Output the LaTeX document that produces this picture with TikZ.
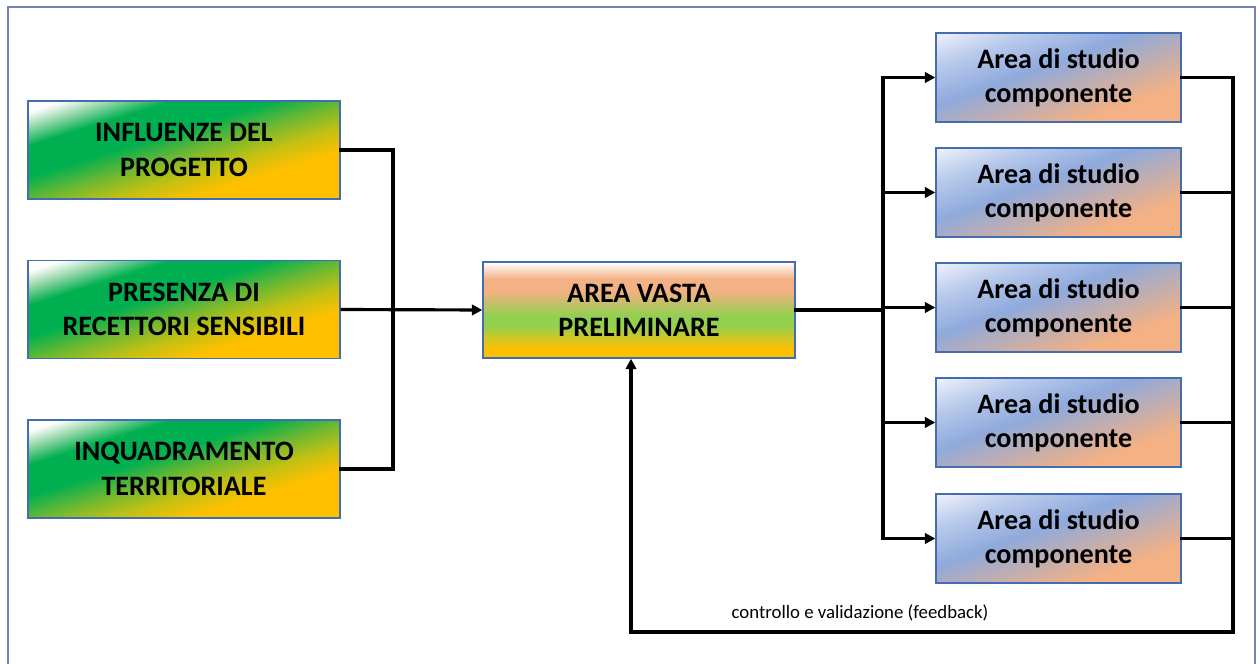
\documentclass[tikz,border=0pt]{standalone}
\usepackage{fontspec}
\setmainfont{Carlito}
\usetikzlibrary{arrows.meta, calc}

\definecolor{boxline}{RGB}{68,108,176}
\definecolor{framecol}{RGB}{112,134,176}
\definecolor{goldfill}{RGB}{255,192,0}
\definecolor{olivefill}{RGB}{190,192,20}
\definecolor{grassfill}{RGB}{110,184,50}
\definecolor{greenfill}{RGB}{0,176,80}
\definecolor{mintfill}{RGB}{150,215,170}
\definecolor{limefill}{RGB}{146,208,80}
\definecolor{yellowfill}{RGB}{205,200,40}
\definecolor{peachfill}{RGB}{244,177,131}
\definecolor{bluefill}{RGB}{143,170,220}
\definecolor{skyfill}{RGB}{185,202,235}
\definecolor{palefill}{RGB}{234,239,249}

\pgfdeclareverticalshading{inputshade}{100bp}{color(0bp)=(goldfill); color(34bp)=(goldfill); color(42bp)=(olivefill); color(49bp)=(grassfill); color(57bp)=(greenfill); color(67bp)=(greenfill); color(73bp)=(mintfill); color(78bp)=(white); color(100bp)=(white)}
\pgfdeclareverticalshading{areashade}{100bp}{color(0bp)=(goldfill); color(29bp)=(goldfill); color(36bp)=(yellowfill); color(42bp)=(limefill); color(47bp)=(limefill); color(60bp)=(peachfill); color(66bp)=(peachfill); color(75bp)=(white); color(100bp)=(white)}
\pgfdeclareverticalshading{compshade}{100bp}{color(0bp)=(peachfill); color(31bp)=(peachfill); color(56bp)=(bluefill); color(70bp)=(skyfill); color(81bp)=(palefill); color(100bp)=(palefill)}

\tikzset{
  inputbox/.style={draw=boxline, line width=0.8pt, shade, shading=inputshade, shading angle=17.4,
    minimum width=6.24cm, minimum height=1.96cm, align=center,
    font=\fontsize{16}{19.5}\selectfont\bfseries},
  areabox/.style={draw=boxline, line width=0.8pt, shade, shading=areashade,
    minimum width=6.24cm, minimum height=1.92cm, align=center,
    font=\fontsize{16}{19.5}\selectfont\bfseries},
  compbox/.style={draw=boxline, line width=0.8pt, shade, shading=compshade, shading angle=20,
    minimum width=4.9cm, minimum height=1.78cm, align=center,
    font=\fontsize{16}{19.5}\selectfont\bfseries},
  link/.style={line width=1.8pt, line cap=rect},
  arrowlink/.style={line width=1.8pt, -{Triangle[length=6pt,width=6pt]}},
  fblabel/.style={font=\fontsize{10.7}{13}\selectfont}
}

\begin{document}
\begin{tikzpicture}[x=0.02cm, y=0.02cm]
\useasboundingbox (0,0) rectangle (1260,663);
% Draw frame
\draw[framecol, line width=1.2pt] (8,-10) -- (8,656) -- (1255,656) -- (1255,-10);
% Input boxes
\node[inputbox] (infl) at (184,513) {INFLUENZE DEL\\PROGETTO};
\node[inputbox] (recet) at (184,353.5) {PRESENZA DI\\RECETTORI SENSIBILI};
\node[inputbox] (inquad) at (184,194) {INQUADRAMENTO\\TERRITORIALE};
% Preliminary area
\node[areabox] (area) at (639,353) {AREA VASTA\\PRELIMINARE};
% Component boxes
\foreach \i/\y in {1/585.5, 2/470.5, 3/355.5, 4/240.5, 5/124.5}
  \node[compbox] (comp\i) at (1058.5,\y) {Area di studio\\componente};
% Left bus into the preliminary area
\coordinate (busL) at (393,0);
\draw[link] (infl.east) -- (infl.east -| busL) -- (inquad.east -| busL) -- (inquad.east);
\draw[arrowlink] (recet.east) -- (area.west);
% Right bus out to the components
\coordinate (busR) at (883,0);
\draw[link] (area.east) -- (area.east -| busR);
\draw[link] (comp1.west -| busR) -- (comp5.west -| busR);
\foreach \i in {1,...,5}
  \draw[arrowlink] (comp\i.west -| busR) -- (comp\i.west);
% Feedback loop back to the preliminary area
\coordinate (busF) at (1233,31);
\coordinate (fbin) at (631,0);
\foreach \i in {1,...,5}
  \draw[link] (comp\i.east) -- (comp\i.east -| busF);
\draw[arrowlink] (comp1.east -| busF) -- (busF) -- (busF -| fbin) -- (area.south -| fbin);
\node[fblabel] (fbtext) at (860,50) {controllo e validazione (feedback)};
\end{tikzpicture}
\end{document}
